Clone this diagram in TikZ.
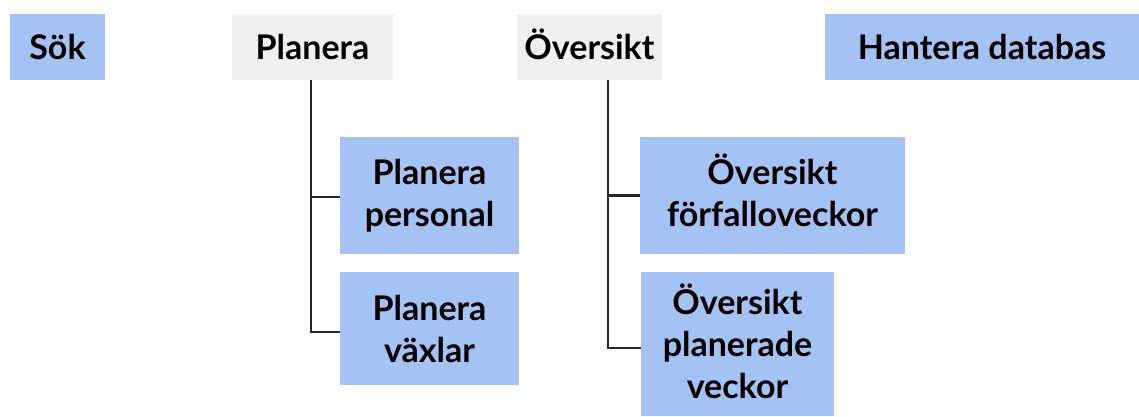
\documentclass[tikz,border=0pt]{standalone}
\usepackage{fontspec}
\setmainfont{Lato}
\definecolor{boxblue}{HTML}{A4C2F4}
\definecolor{boxgray}{HTML}{EFEFEF}
\definecolor{linegray}{HTML}{262626}
\newcommand{\capht}[1]{\raisebox{0pt}[0.75em]{#1}}
\begin{document}
\begin{tikzpicture}[x=1pt,y=-1pt,
  box/.style={rectangle, inner sep=0pt, align=center, font=\fontsize{34}{42}\selectfont\bfseries, text=black},
  bluebox/.style={box, fill=boxblue},
  graybox/.style={box, fill=boxgray},
  conn/.style={draw=linegray, line width=2.2pt}]
\useasboundingbox (0,0) rectangle (1139,416);
% top row
\node[bluebox, minimum width=95pt, minimum height=66pt] (sok) at (57.5,47) {\capht{Sök}};
\node[graybox, minimum width=161pt, minimum height=66pt] (planera) at (312.5,47) {Planera};
\node[graybox, minimum width=145pt, minimum height=66pt] (oversikt) at (589.5,47) {\capht{Översikt}};
\node[bluebox, minimum width=314pt, minimum height=66pt] (hantera) at (982,47) {Hantera databas};
% children of Planera
\node[bluebox, minimum width=179pt, minimum height=117pt] (pp) at (429.5,195.5) {Planera\\personal};
\node[bluebox, minimum width=179pt, minimum height=113pt] (pv) at (429.5,328.5) {Planera\\växlar};
% children of Översikt
\node[bluebox, minimum width=265pt, minimum height=117pt] (of) at (772.5,195.5) {\capht{Översikt}\\förfalloveckor\vphantom{p}};
\node[bluebox, minimum width=193pt, minimum height=144pt] (op) at (737.5,344) {\capht{Översikt}\\planerade\\veckor};
% connectors
\draw[conn] ([xshift=-1.5pt]planera.south) |- ([yshift=-1.5pt]pp.west);
\draw[conn] ([xshift=-1.5pt]planera.south) |- ([yshift=-3.5pt]pv.west);
\draw[conn] ([xshift=18.5pt]oversikt.south) |- (of.west);
\draw[conn] ([xshift=18.5pt]oversikt.south) |- ([yshift=-4pt]op.west);
\end{tikzpicture}
\end{document}
